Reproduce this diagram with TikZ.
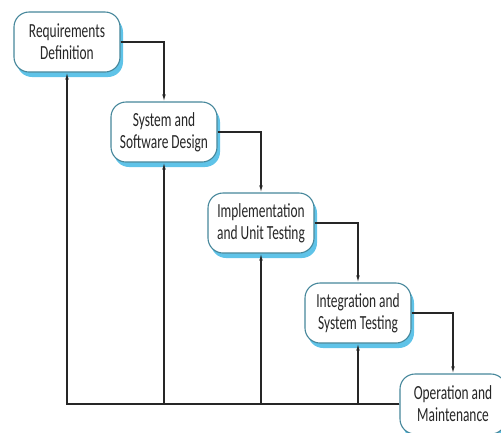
\documentclass[tikz,border=0pt]{standalone}
\usepackage{fontspec}
\usepackage{xcolor}
\usepackage{tikz}
\usetikzlibrary{arrows.meta,positioning,shadows}
\newfontfamily\phasefont{Carlito}[FakeStretch=0.67]

\begin{document}
\begin{tikzpicture}[x=1pt,y=-1pt,thick,
    phase/.style={draw=edge,line width=1.1pt,fill=white,rounded corners=15pt,
      minimum width=106pt,minimum height=60pt,align=center,text=black!85,
      font=\phasefont\fontsize{20}{22}\selectfont,
      general shadow={fill=shade,shadow xshift=3pt,shadow yshift=-5pt}},
    flow/.style={draw=black!85,line width=1.1pt,-{Latex[length=7pt,width=3.5pt]}}]
  \definecolor{edge}{RGB}{70,135,155}
  \definecolor{shade}{RGB}{95,195,232}
  \useasboundingbox (0,0) rectangle (501,432);
  \clip (0,0) rectangle (501,432);
  % die fuenf Phasen, treppenartig versetzt
  \node[phase] (req) at (67,42)    {Requirements\\Definition};
  \node[phase] (sys) at (164,132)  {System and\\Software Design};
  \node[phase] (imp) at (261,223)  {Implementation\\and Unit Testing};
  \node[phase] (int) at (358,313)  {Integration and\\System Testing};
  \node[phase] (ope) at (453,404)  {Operation and\\Maintenance};
  % Weitergabe nach unten
  \draw[flow] (req.east) -| (sys.north);
  \draw[flow] (sys.east) -| (imp.north);
  \draw[flow] (imp.east) -| (int.north);
  \draw[flow] (int.east) -| (ope.north);
  % Rueckkopplung
  \foreach \phase in {req,sys,imp,int}{
      \draw[flow] (ope.west) -| (\phase.south);
    }
\end{tikzpicture}
\end{document}
